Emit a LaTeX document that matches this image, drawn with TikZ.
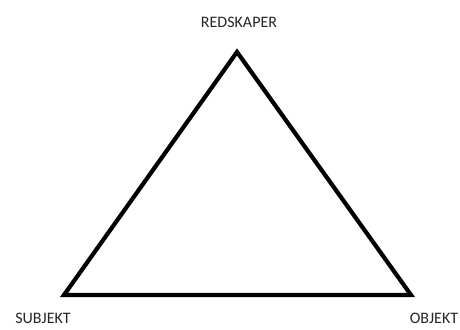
\documentclass[tikz,border=0pt]{standalone}
\usepackage{fontspec}
\setmainfont{Carlito}
\usetikzlibrary{positioning}

\begin{document}
\begin{tikzpicture}[
        x=1pt, y=-1pt,
        label/.style={
            inner sep=0pt,
            font=\fontsize{16}{19}\selectfont,
            text=black!85
        },
        side/.style={line width=4.2pt, draw=black, line join=miter}
    ]
        \useasboundingbox (0,0) rectangle (460,329);

        \coordinate (top) at (237,52);
        \coordinate (left) at (64,295);
        \coordinate (right) at (411,295);

        \node[label] (redskaper) at (239,22) {REDSKAPER};
        \node[label] (subjekt) at (43,318) {SUBJEKT};
        \node[label] (objekt) at (434,318) {OBJEKT};

        \draw[side] (top) -- (left) -- (right) -- cycle;
    \end{tikzpicture}
\end{document}
